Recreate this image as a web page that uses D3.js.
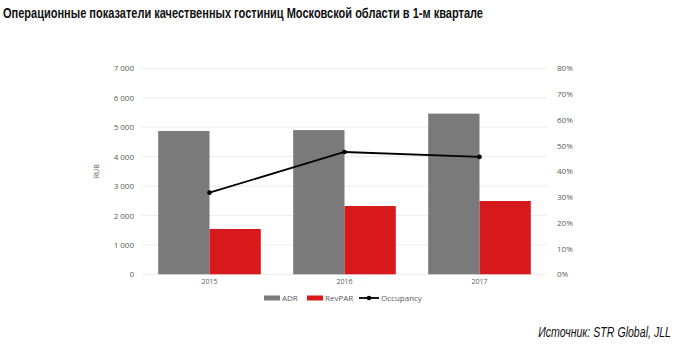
<!DOCTYPE html>
<html>
<head>
<meta charset="utf-8">
<script src="https://cdn.jsdelivr.net/npm/d3@7/dist/d3.min.js"></script>
<style>
  html, body { margin: 0; padding: 0; background: #fff; }
  svg { display: block; }
</style>
</head>
<body>
<svg id="chart" width="677" height="347"></svg>
<script>
// Quarter-1 operating figures, Moscow region quality hotels
const years = ["2015", "2016", "2017"];
const adr = [4870, 4900, 5460];          // RUB
const revpar = [1540, 2320, 2490];       // RUB
const occupancy = [31.7, 47.5, 45.6];    // %
const leftTicks = [0, 1000, 2000, 3000, 4000, 5000, 6000, 7000];
const rightTicks = [0, 10, 20, 30, 40, 50, 60, 70, 80];

const svg = d3.select("#chart");
const font = "'Open Sans', 'DejaVu Sans', sans-serif";
const tickColor = "#595959";

const plot = { left: 142, right: 547, top: 68.3, bottom: 274.3 };

const x = d3.scaleBand().domain(years).range([plot.left, plot.right]).paddingInner(0.24).paddingOuter(0.12);
const yL = d3.scaleLinear().domain([0, 7000]).range([plot.bottom, plot.top]);
const yR = d3.scaleLinear().domain([0, 80]).range([plot.bottom, plot.top]);

// Title
svg.append("text")
  .attr("x", 3).attr("y", 18)
  .attr("font-family", "'Liberation Sans Narrow', 'Liberation Sans', Arial, sans-serif")
  .attr("font-weight", "bold")
  .attr("font-size", 15)
  .attr("fill", "#111")
  .attr("textLength", 480)
  .attr("lengthAdjust", "spacingAndGlyphs")
  .text("Операционные показатели качественных гостиниц Московской области в 1-м квартале");

// Gridlines
svg.append("g")
  .selectAll("line").data(leftTicks).join("line")
  .attr("x1", plot.left).attr("x2", plot.right)
  .attr("y1", d => yL(d)).attr("y2", d => yL(d))
  .attr("stroke", "#ececec").attr("stroke-width", 1);

// Left axis
const axL = svg.append("g").attr("transform", `translate(${plot.left - 6},0)`)
  .call(d3.axisLeft(yL).tickValues(leftTicks).tickSize(0).tickPadding(2)
    .tickFormat(d => d3.format(",")(d).replace(",", " ")));
axL.select(".domain").remove();
axL.selectAll("text").attr("font-family", font).attr("font-size", 8).attr("fill", tickColor);

// Right axis
const axR = svg.append("g").attr("transform", `translate(${plot.right + 8},0)`)
  .call(d3.axisRight(yR).tickValues(rightTicks).tickSize(0).tickPadding(2).tickFormat(d => d + "%"));
axR.select(".domain").remove();
axR.selectAll("text").attr("font-family", font).attr("font-size", 8).attr("fill", tickColor);

// Axis title
svg.append("text")
  .attr("transform", `translate(99,${(plot.top + plot.bottom) / 2}) rotate(-90)`)
  .attr("text-anchor", "middle")
  .attr("font-family", font).attr("font-size", 7).attr("fill", tickColor)
  .text("RUB");

// Bars
const half = x.bandwidth() / 2;
svg.append("g").selectAll("rect").data(years).join("rect")
  .attr("x", d => x(d)).attr("width", half)
  .attr("y", (d, i) => yL(adr[i])).attr("height", (d, i) => yL(0) - yL(adr[i]))
  .attr("fill", "#7a7a7a");
svg.append("g").selectAll("rect").data(years).join("rect")
  .attr("x", d => x(d) + half).attr("width", half)
  .attr("y", (d, i) => yL(revpar[i])).attr("height", (d, i) => yL(0) - yL(revpar[i]))
  .attr("fill", "#d7191c");

// Year labels
const axB = svg.append("g").attr("transform", `translate(0,${plot.bottom + 2})`)
  .call(d3.axisBottom(x).tickSize(0).tickPadding(3));
axB.select(".domain").remove();
axB.selectAll("text").attr("font-family", font).attr("font-size", 7).attr("fill", tickColor);

// Occupancy line
const cx = d => x(d) + half;
svg.append("path")
  .datum(years)
  .attr("fill", "none").attr("stroke", "#000").attr("stroke-width", 1.8)
  .attr("d", d3.line().x(d => cx(d)).y((d, i) => yR(occupancy[i])));
svg.append("g").selectAll("circle").data(years).join("circle")
  .attr("cx", d => cx(d)).attr("cy", (d, i) => yR(occupancy[i]))
  .attr("r", 2.3).attr("fill", "#000");

// Legend
const lg = svg.append("g").attr("font-family", font).attr("font-size", 8).attr("fill", tickColor);
const ly = 298;
lg.append("rect").attr("x", 264).attr("y", ly - 2.5).attr("width", 16).attr("height", 5).attr("fill", "#7a7a7a");
lg.append("text").attr("x", 282).attr("y", ly + 3).text("ADR");
lg.append("rect").attr("x", 307).attr("y", ly - 2.5).attr("width", 16).attr("height", 5).attr("fill", "#d7191c");
lg.append("text").attr("x", 325).attr("y", ly + 3).text("RevPAR");
lg.append("line").attr("x1", 359).attr("x2", 379).attr("y1", ly).attr("y2", ly).attr("stroke", "#000").attr("stroke-width", 1.8);
lg.append("circle").attr("cx", 369).attr("cy", ly).attr("r", 2.3).attr("fill", "#000");
lg.append("text").attr("x", 381).attr("y", ly + 3).text("Occupancy");

// Source note, right-aligned and horizontally condensed to 133px
const src = svg.append("g").attr("transform", "translate(671,337)");
const srcText = src.append("text")
  .attr("text-anchor", "end")
  .attr("font-family", "'Liberation Sans', Arial, sans-serif")
  .attr("font-style", "italic")
  .attr("font-size", 14)
  .attr("fill", "#111")
  .text("Источник: STR Global, JLL");
const natural = srcText.node().getComputedTextLength();
src.attr("transform", `translate(671,337) scale(${133 / natural},1)`);
</script>
</body>
</html>
